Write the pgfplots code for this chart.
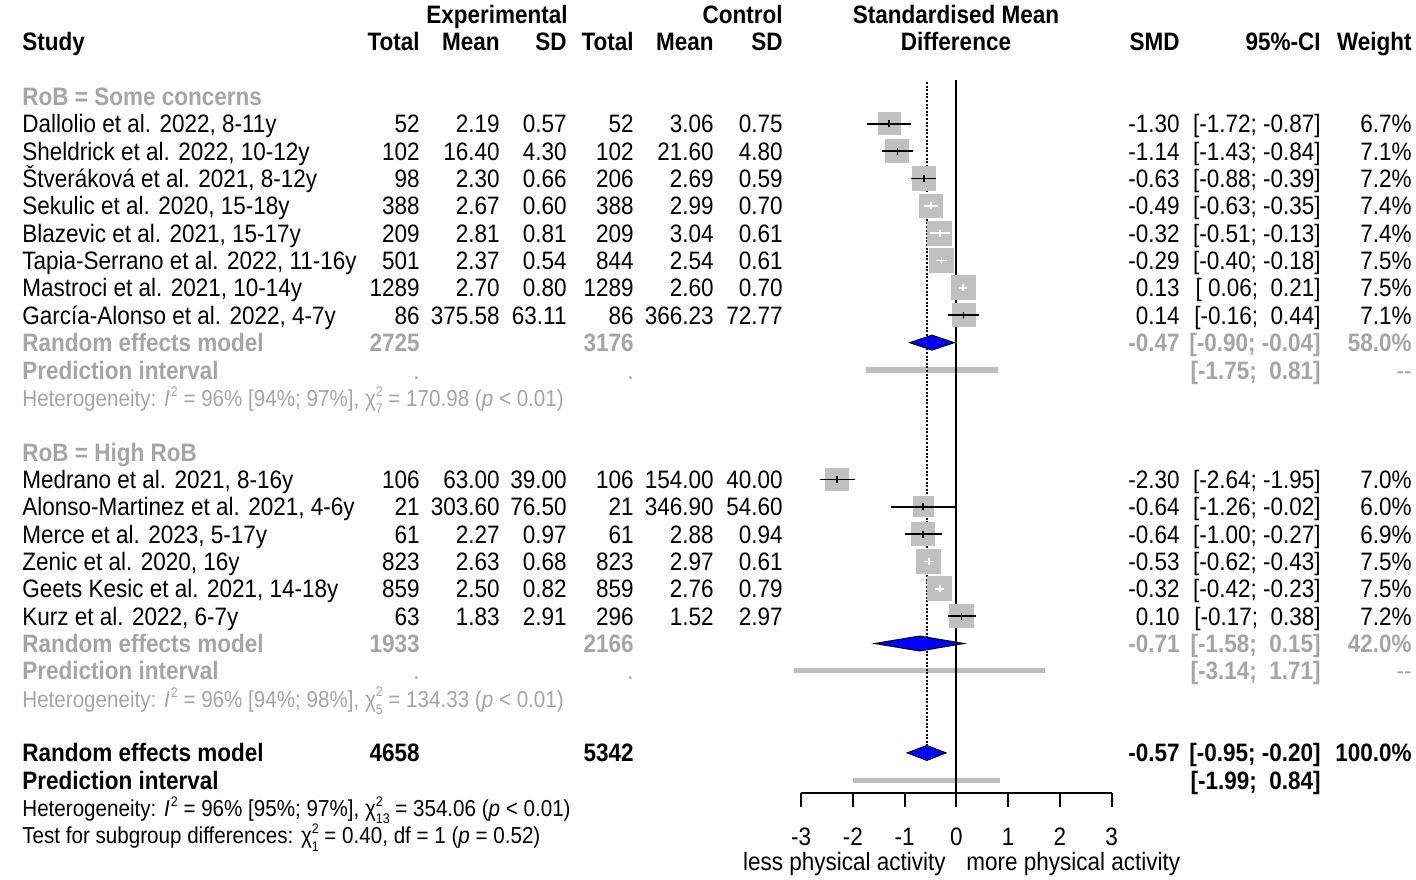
\documentclass[border=0pt]{standalone}
\usepackage{pgfplots}
\pgfplotsset{compat=1.18}
\usepackage{pgfplotstable}
\usepackage{fontspec}
\setmainfont{Liberation Sans}

\definecolor{txtgray}{RGB}{165,165,165}
\definecolor{sqgray}{RGB}{192,192,192}
\definecolor{pigray}{RGB}{190,190,190}

\newcommand\mainfs{\fontsize{11.25pt}{13pt}\selectfont}
\newcommand\hetfs{\fontsize{10.3pt}{12pt}\selectfont}
\newcommand\scr{\fontsize{6.2pt}{6.2pt}\selectfont}
% baseline (in px from top) of table row #1
\newcommand\by[1]{105.5+27.35*(#1)}
\newcommand\Isq{\textit{I}\kern0.6pt\raisebox{4.5pt}{\scr 2}}
\newcommand\chisq[1]{χ\rlap{\raisebox{4.6pt}{\scr 2}}\raisebox{-3.2pt}{\scr #1}}

% studies whose CI reaches beyond the square (black line)
\pgfplotstableread{
row smd lo hi w
1 -1.30 -1.72 -0.87 6.7
2 -1.14 -1.43 -0.84 7.1
3 -0.63 -0.88 -0.39 7.2
8 0.14 -0.16 0.44 7.1
14 -2.30 -2.64 -1.95 7.0
15 -0.64 -1.26 -0.02 6.0
16 -0.64 -1.00 -0.27 6.9
19 0.10 -0.17 0.38 7.2
}\studyout
% studies whose CI lies inside the square (white line)
\pgfplotstableread{
row smd lo hi w
4 -0.49 -0.63 -0.35 7.4
5 -0.32 -0.51 -0.13 7.4
6 -0.29 -0.40 -0.18 7.5
7 0.13 0.06 0.21 7.5
17 -0.53 -0.62 -0.43 7.5
18 -0.32 -0.42 -0.23 7.5
}\studyin

\newcommand{\studyL}[8]{%
  \node[L] at (22,{\by{#1}}) {#2};
  \node[R] at (420,{\by{#1}}) {#3};
  \node[R] at (500,{\by{#1}}) {#4};
  \node[R] at (567,{\by{#1}}) {#5};
  \node[R] at (634,{\by{#1}}) {#6};
  \node[R] at (714,{\by{#1}}) {#7};
  \node[R] at (783,{\by{#1}}) {#8};}
\newcommand{\studyR}[4]{%
  \node[R] at (1180,{\by{#1}}) {#2};
  \node[R] at (1321,{\by{#1}}) {#3};
  \node[R] at (1412,{\by{#1}}) {#4};}

\pgfplotsset{
  square plot/.style={scatter, only marks, mark=square*,
    scatter/use mapped color={draw=sqgray, fill=sqgray},
    mark options={line width=0pt},
    visualization depends on={1.2+0.64*\thisrow{w} \as \msize},
    scatter/@pre marker code/.append style={/tikz/mark size=\msize pt}},
  ci plot/.style={draw=none, mark=none,
    error bars/.cd, x dir=both, x explicit, y dir=both, y fixed=0.13,
    error mark=none, error bar style={draw=#1, line width=0.8pt}},
}

\begin{document}
\begin{tikzpicture}[
  L/.style={anchor=base west, inner sep=0pt, yscale=1.12},
  R/.style={anchor=base east, inner sep=0pt, yscale=1.12},
  C/.style={anchor=base, inner sep=0pt, yscale=1.12},
  B/.style={font=\mainfs\bfseries},
  G/.style={text=txtgray}]
\useasboundingbox (0,0) rectangle (708pt,439.5pt);

\begin{axis}[
  at={(400.5pt,42.85pt)}, anchor=south west,
  scale only axis, width=155.34pt, height=356.65pt,
  xmin=-3, xmax=3, ymin=-25.477, ymax=0.603,
  axis x line=bottom, axis y line=none,
  axis line style={-}, x axis line style={-, line width=1pt},
  xtick={-3,-2,-1,0,1,2,3},
  xticklabels={-3,-2,-1,0,1,2,3},
  tick align=outside, major tick length=6.7pt,
  xtick style={line width=1pt, black},
  xticklabel style={font=\mainfs, yscale=1.12, yshift=-6pt},
  clip=false, clip marker paths=true,
]
% prediction intervals
\addplot[pigray, line width=2.6pt] coordinates {(-1.75,-10) (0.81,-10)};
\addplot[pigray, line width=2.6pt] coordinates {(-3.14,-21) (1.71,-21)};
\addplot[pigray, line width=2.6pt] coordinates {(-1.99,-25) (0.84,-25)};
% no effect line and overall estimate
\addplot[black, line width=1pt] coordinates {(0,0.603) (0,-25.477)};
\addplot[black, line width=1pt, dash pattern=on 1pt off 0.8pt] coordinates {(-0.57,0.53) (-0.57,-23.7)};
% squares
\addplot[square plot] table[x=smd, y expr=-\thisrow{row}] \studyout;
\addplot[square plot] table[x=smd, y expr=-\thisrow{row}] \studyin;
% confidence intervals with estimate tick
\addplot[ci plot=black]
  table[x=smd, y expr=-\thisrow{row},
        x error plus expr=\thisrow{hi}-\thisrow{smd},
        x error minus expr=\thisrow{smd}-\thisrow{lo}] \studyout;
\addplot[ci plot=white]
  table[x=smd, y expr=-\thisrow{row},
        x error plus expr=\thisrow{hi}-\thisrow{smd},
        x error minus expr=\thisrow{smd}-\thisrow{lo}] \studyin;
% pooled estimates
\addplot[draw=black, fill=blue, line width=0.5pt] coordinates {(-0.90,-9) (-0.47,-8.726) (-0.04,-9) (-0.47,-9.274)} -- cycle;
\addplot[draw=black, fill=blue, line width=0.5pt] coordinates {(-1.58,-20) (-0.71,-19.726) (0.15,-20) (-0.71,-20.274)} -- cycle;
\addplot[draw=black, fill=blue, line width=0.5pt] coordinates {(-0.95,-24) (-0.57,-23.726) (-0.20,-24) (-0.57,-24.274)} -- cycle;
\end{axis}

\begin{scope}[shift={(0pt,439.5pt)}, x=0.5pt, y=-0.5pt, font=\mainfs]
% header
\node[R,B] at (568,{\by{-3}}) {Experimental};
\node[R,B] at (783,{\by{-3}}) {Control};
\node[C,B] at (956,{\by{-3}}) {Standardised Mean};
\node[L,B] at (22,{\by{-2}}) {Study};
\node[R,B] at (420,{\by{-2}}) {Total};
\node[R,B] at (500,{\by{-2}}) {Mean};
\node[R,B] at (567,{\by{-2}}) {SD};
\node[R,B] at (634,{\by{-2}}) {Total};
\node[R,B] at (714,{\by{-2}}) {Mean};
\node[R,B] at (783,{\by{-2}}) {SD};
\node[C,B] at (956,{\by{-2}}) {Difference};
\node[R,B] at (1180,{\by{-2}}) {SMD};
\node[R,B] at (1321,{\by{-2}}) {95\%-CI};
\node[R,B] at (1412,{\by{-2}}) {Weight};

% RoB = Some concerns
\node[L,B,G] at (22,{\by{0}}) {RoB = Some concerns};
\studyL{1}{Dallolio et al. 2022, 8-11y}{52}{2.19}{0.57}{52}{3.06}{0.75}
\studyR{1}{-1.30}{[-1.72; -0.87]}{6.7\%}
\studyL{2}{Sheldrick et al. 2022, 10-12y}{102}{16.40}{4.30}{102}{21.60}{4.80}
\studyR{2}{-1.14}{[-1.43; -0.84]}{7.1\%}
\studyL{3}{Štveráková et al. 2021, 8-12y}{98}{2.30}{0.66}{206}{2.69}{0.59}
\studyR{3}{-0.63}{[-0.88; -0.39]}{7.2\%}
\studyL{4}{Sekulic et al. 2020, 15-18y}{388}{2.67}{0.60}{388}{2.99}{0.70}
\studyR{4}{-0.49}{[-0.63; -0.35]}{7.4\%}
\studyL{5}{Blazevic et al. 2021, 15-17y}{209}{2.81}{0.81}{209}{3.04}{0.61}
\studyR{5}{-0.32}{[-0.51; -0.13]}{7.4\%}
\studyL{6}{Tapia-Serrano et al. 2022, 11-16y}{501}{2.37}{0.54}{844}{2.54}{0.61}
\studyR{6}{-0.29}{[-0.40; -0.18]}{7.5\%}
\studyL{7}{Mastroci et al. 2021, 10-14y}{1289}{2.70}{0.80}{1289}{2.60}{0.70}
\studyR{7}{0.13}{[\ 0.06; \ 0.21]}{7.5\%}
\studyL{8}{García-Alonso et al. 2022, 4-7y}{86}{375.58}{63.11}{86}{366.23}{72.77}
\studyR{8}{0.14}{[-0.16; \ 0.44]}{7.1\%}
\node[L,B,G] at (22,{\by{9}}) {Random effects model};
\node[R,B,G] at (420,{\by{9}}) {2725};
\node[R,B,G] at (634,{\by{9}}) {3176};
\node[R,B,G] at (1180,{\by{9}}) {-0.47};
\node[R,B,G] at (1321,{\by{9}}) {[-0.90; -0.04]};
\node[R,B,G] at (1412,{\by{9}}) {58.0\%};
\node[L,B,G] at (22,{\by{10}}) {Prediction interval};
\node[R,G] at (420,{\by{10}}) {.};
\node[R,G] at (634,{\by{10}}) {.};
\node[R,B,G] at (1321,{\by{10}}) {[-1.75; \ 0.81]};
\node[R,G] at (1412,{\by{10}}) {-{}-};
\node[L,G,font=\hetfs] at (22,{\by{11}}) {Heterogeneity: \Isq{} = 96\% [94\%; 97\%], \chisq{7} = 170.98 (\textit{p} < 0.01)};

% RoB = High RoB
\node[L,B,G] at (22,{\by{13}}) {RoB = High RoB};
\studyL{14}{Medrano et al. 2021, 8-16y}{106}{63.00}{39.00}{106}{154.00}{40.00}
\studyR{14}{-2.30}{[-2.64; -1.95]}{7.0\%}
\studyL{15}{Alonso-Martinez et al. 2021, 4-6y}{21}{303.60}{76.50}{21}{346.90}{54.60}
\studyR{15}{-0.64}{[-1.26; -0.02]}{6.0\%}
\studyL{16}{Merce et al. 2023, 5-17y}{61}{2.27}{0.97}{61}{2.88}{0.94}
\studyR{16}{-0.64}{[-1.00; -0.27]}{6.9\%}
\studyL{17}{Zenic et al. 2020, 16y}{823}{2.63}{0.68}{823}{2.97}{0.61}
\studyR{17}{-0.53}{[-0.62; -0.43]}{7.5\%}
\studyL{18}{Geets Kesic et al. 2021, 14-18y}{859}{2.50}{0.82}{859}{2.76}{0.79}
\studyR{18}{-0.32}{[-0.42; -0.23]}{7.5\%}
\studyL{19}{Kurz et al. 2022, 6-7y}{63}{1.83}{2.91}{296}{1.52}{2.97}
\studyR{19}{0.10}{[-0.17; \ 0.38]}{7.2\%}
\node[L,B,G] at (22,{\by{20}}) {Random effects model};
\node[R,B,G] at (420,{\by{20}}) {1933};
\node[R,B,G] at (634,{\by{20}}) {2166};
\node[R,B,G] at (1180,{\by{20}}) {-0.71};
\node[R,B,G] at (1321,{\by{20}}) {[-1.58; \ 0.15]};
\node[R,B,G] at (1412,{\by{20}}) {42.0\%};
\node[L,B,G] at (22,{\by{21}}) {Prediction interval};
\node[R,G] at (420,{\by{21}}) {.};
\node[R,G] at (634,{\by{21}}) {.};
\node[R,B,G] at (1321,{\by{21}}) {[-3.14; \ 1.71]};
\node[R,G] at (1412,{\by{21}}) {-{}-};
\node[L,G,font=\hetfs] at (22,{\by{22}}) {Heterogeneity: \Isq{} = 96\% [94\%; 98\%], \chisq{5} = 134.33 (\textit{p} < 0.01)};

% overall
\node[L,B] at (22,{\by{24}}) {Random effects model};
\node[R,B] at (420,{\by{24}}) {4658};
\node[R,B] at (634,{\by{24}}) {5342};
\node[R,B] at (1180,{\by{24}}) {-0.57};
\node[R,B] at (1321,{\by{24}}) {[-0.95; -0.20]};
\node[R,B] at (1412,{\by{24}}) {100.0\%};
\node[L,B] at (22,{\by{25}}) {Prediction interval};
\node[R,B] at (1321,{\by{25}}) {[-1.99; \ 0.84]};
\node[L,font=\hetfs] at (22,{\by{26}}) {Heterogeneity: \Isq{} = 96\% [95\%; 97\%], \chisq{13} = 354.06 (\textit{p} < 0.01)};
\node[L,font=\hetfs] at (22,{\by{27}}) {Test for subgroup differences: \chisq{1} = 0.40, df = 1 (\textit{p} = 0.52)};

% direction labels
\node[R] at (946,870) {less physical activity};
\node[L] at (966,870) {more physical activity};
\end{scope}
\end{tikzpicture}
\end{document}
